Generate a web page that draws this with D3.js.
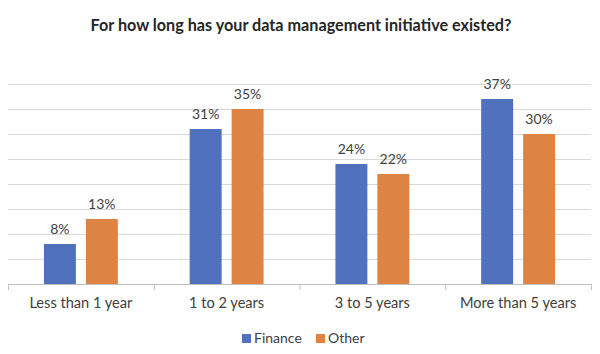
<!DOCTYPE html>
<html><head><meta charset="utf-8">
<script src="https://cdn.jsdelivr.net/npm/d3@7/dist/d3.min.js"></script>
<style>body{margin:0;background:#fff}svg{display:block}</style>
</head><body>
<svg id="c" width="600" height="354"></svg>
<script>
const title = "For how long has your data management initiative existed?";
const categories = ["Less than 1 year", "1 to 2 years", "3 to 5 years", "More than 5 years"];
const seriesNames = ["Finance", "Other"];
const finance = [8, 31, 24, 37];
const other = [13, 35, 22, 30];
const gridTicks = [0, 5, 10, 15, 20, 25, 30, 35, 40];

(function () {
const colors = {Finance: "#4F71BE", Other: "#DE8344"};
const svg = d3.select("#c");
const font = "Lato, 'Open Sans', sans-serif";
const pL = 8, pR = 591, pT = 84, pB = 284;

const x0 = d3.scaleBand().domain(categories).range([pL, pR]).padding(0);
const groupW = x0.bandwidth() * 0.507;
const x1 = d3.scaleBand().domain(seriesNames).range([0, groupW]).paddingInner(0.238).paddingOuter(0);
const y = d3.scaleLinear().domain([0, 40]).range([pB, pT]);

svg.append("g").selectAll("line").data(gridTicks.slice(1)).join("line")
  .attr("x1", pL).attr("x2", pR)
  .attr("y1", d => Math.round(y(d)) + 0.5).attr("y2", d => Math.round(y(d)) + 0.5)
  .attr("stroke", "#d9d9d9").attr("stroke-width", 1);

const rows = categories.map((c, i) => ({cat: c, vals: [
  {s: "Finance", v: finance[i]}, {s: "Other", v: other[i]}]}));

const g = svg.append("g").selectAll("g").data(rows).join("g")
  .attr("transform", d => `translate(${x0(d.cat) + (x0.bandwidth() - groupW) / 2},0)`);
g.selectAll("rect").data(d => d.vals).join("rect")
  .attr("x", d => x1(d.s)).attr("width", x1.bandwidth())
  .attr("y", d => y(d.v)).attr("height", d => y(0) - y(d.v))
  .attr("fill", d => colors[d.s]);
g.selectAll("text").data(d => d.vals).join("text")
  .attr("x", d => x1(d.s) + x1.bandwidth() / 2).attr("y", d => y(d.v) - 10)
  .attr("text-anchor", "middle").attr("font-family", font).attr("font-size", 14)
  .attr("fill", "#404040").text(d => d.v + "%");

const xAxis = d3.axisBottom(x0).tickSize(0).tickPadding(0);
const ax = svg.append("g").attr("transform", `translate(0,${pB})`).call(xAxis);
ax.select(".domain").remove();
ax.append("line").attr("x1", pL).attr("x2", pR).attr("y1", 0.5).attr("y2", 0.5).attr("stroke", "#bfbfbf");
ax.selectAll(".sep").data(d3.range(categories.length + 1)).join("line").attr("class", "sep")
  .attr("x1", i => pL + i * x0.step() + 0.5).attr("x2", i => pL + i * x0.step() + 0.5)
  .attr("y1", 0).attr("y2", 6).attr("stroke", "#bfbfbf");
ax.selectAll(".tick text").attr("y", 24).attr("dy", 0).attr("font-family", font)
  .attr("font-size", 14.6).attr("fill", "#404040");

svg.append("text").attr("x", 301).attr("y", 31).attr("text-anchor", "middle")
  .attr("font-family", font).attr("font-weight", 700).attr("font-size", 16.2)
  .attr("fill", "#262626").text(title);

const legendX = [242, 316];
const lg = svg.append("g").selectAll("g").data(seriesNames).join("g")
  .attr("transform", (d, i) => `translate(${legendX[i]},334)`);
lg.append("rect").attr("width", 9).attr("height", 9).attr("fill", d => colors[d]);
lg.append("text").attr("x", 12).attr("y", 9).attr("font-family", font).attr("font-size", 14)
  .attr("fill", "#404040").text(d => d);
})();
</script>
</body></html>
